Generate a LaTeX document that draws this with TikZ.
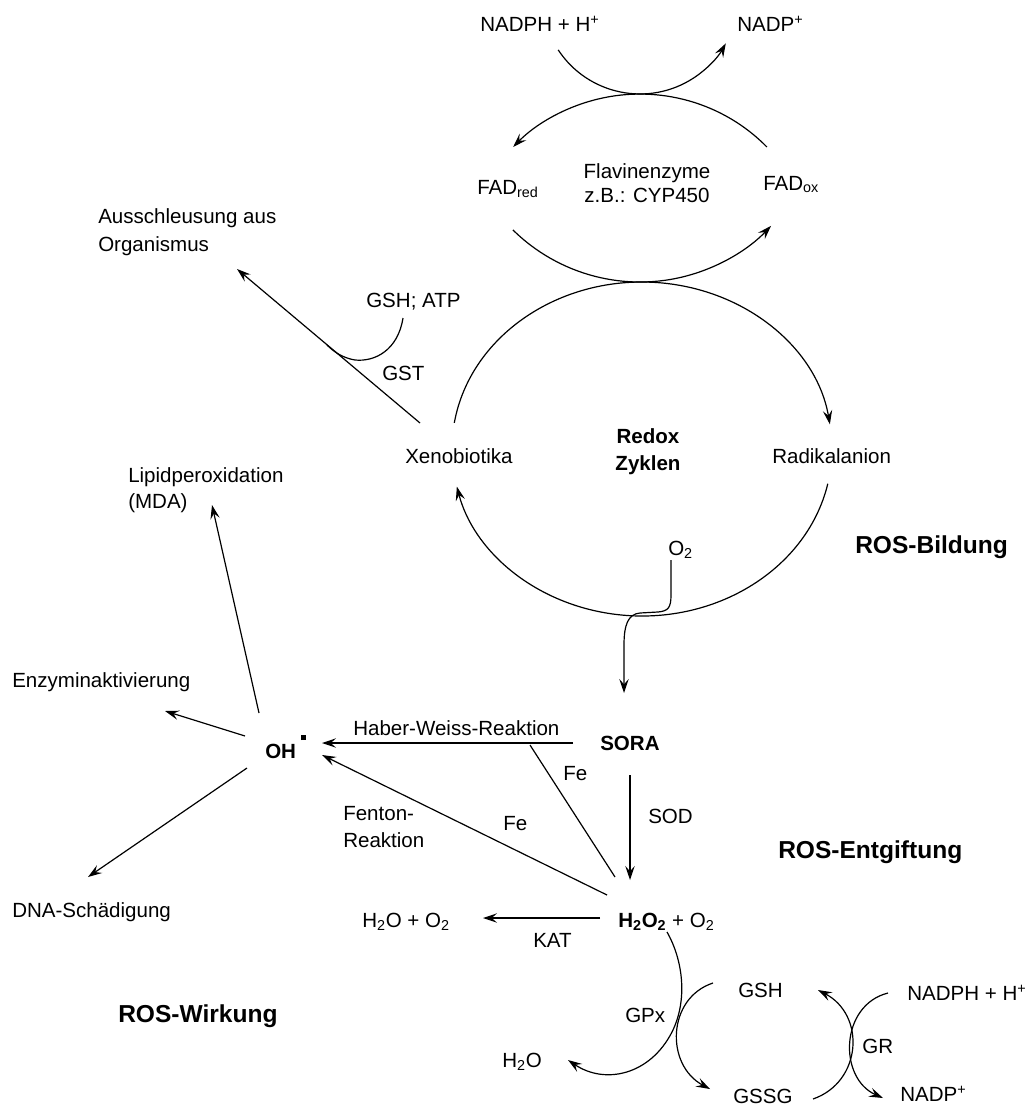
\documentclass[tikz,border=0pt]{standalone}
\usepackage{fontspec}
\setmainfont{Liberation Sans}
\usetikzlibrary{arrows.meta,calc}
\newcommand\lsub[1]{\textsubscript{#1}}
\newcommand\lsup[1]{\textsuperscript{#1}}
\tikzset{
  lbl/.style={anchor=base west, inner sep=0pt, font=\fontsize{15.4}{20}\selectfont},
  clbl/.style={anchor=base, inner sep=0pt, font=\fontsize{15.4}{20}\selectfont},
  bigl/.style={anchor=base west, inner sep=0pt, font=\fontsize{18.4}{22}\selectfont\bfseries},
  con/.style={line width=0.9pt},
  arr/.style={con, -{Stealth[length=10.5pt,width=7pt,inset=4pt]}},
}
\begin{document}
\begin{tikzpicture}[x=0.75pt,y=-0.75pt]
\useasboundingbox (0,0) rectangle (1026,1107);
\fill[white] (0,0) rectangle (1026,1107);

% ---------- texts ----------
\node[lbl] (nadphA) at (480,31) {NADPH + H\lsup{+}};
\node[lbl] (nadpA) at (737,31) {NADP\lsup{+}};
\node[lbl] (fadred) at (477,194) {FAD\lsub{red}};
\node[clbl] (flavA) at (647,178) {Flavinenzyme};
\node[clbl] (flavB) at (647,202) {z.B.: CYP450};
\node[lbl] (fadox) at (763,190) {FAD\lsub{ox}};
\node[lbl] (aus1) at (98,223) {Ausschleusung aus};
\node[lbl] (aus2) at (98,251) {Organismus};
\node[lbl] (gshatp) at (366,307) {GSH; ATP};
\node[lbl] (gst) at (382,380) {GST};
\node[lbl] (xeno) at (405,463) {Xenobiotika};
\node[lbl] (radi) at (772,463) {Radikalanion};
\node[clbl, font=\fontsize{15.4}{20}\selectfont\bfseries] (redox) at (648,443) {Redox};
\node[clbl, font=\fontsize{15.4}{20}\selectfont\bfseries] (zyklen) at (648,470) {Zyklen};
\node[lbl] (otwo) at (668,555) {O\lsub{2}};
\node[bigl] (rosb) at (855,553) {ROS-Bildung};
\node[lbl] (lipA) at (128,482) {Lipidperoxidation};
\node[lbl] (lipB) at (128,508) {(MDA)};
\node[lbl] (enz) at (12,687) {Enzyminaktivierung};
\node[lbl] (oh) at (265,758) {\textbf{OH}\hspace{4pt}\raisebox{13.5pt}{\rule{3.6pt}{3.6pt}}};
\node[lbl] (hw) at (353,735) {Haber-Weiss-Reaktion};
\node[lbl, font=\fontsize{15.4}{20}\selectfont\bfseries] (sora) at (600,750) {SORA};
\node[lbl] (fe1) at (563,780) {Fe};
\node[lbl] (sod) at (648,823) {SOD};
\node[lbl] (fenA) at (343,820) {Fenton-};
\node[lbl] (fenB) at (343,847) {Reaktion};
\node[lbl] (fe2) at (503,830) {Fe};
\node[lbl] (hoo) at (362,927) {H\lsub{2}O + O\lsub{2}};
\node[lbl] (hh) at (618,927) {\textbf{H\lsub{2}O\lsub{2}} + O\lsub{2}};
\node[lbl] (kat) at (533,947) {KAT};
\node[bigl] (rose) at (778,858) {ROS-Entgiftung};
\node[lbl] (gsh) at (738,997) {GSH};
\node[lbl] (nadphB) at (907,1000) {NADPH + H\lsup{+}};
\node[lbl] (gpx) at (625,1022) {GPx};
\node[lbl] (gr) at (862,1053) {GR};
\node[lbl] (gssg) at (733,1103) {GSSG};
\node[lbl] (nadpB) at (900,1101) {NADP\lsup{+}};
\node[lbl] (hto) at (502,1067) {H\lsub{2}O};
\node[lbl] (dna) at (12,917) {DNA-Schädigung};
\node[bigl] (rosw) at (118,1022) {ROS-Wirkung};

% ---------- connector end points ----------
\coordinate (a1) at (558.2,49.9);
\coordinate (a2) at (766.9,147);
\coordinate (a3) at (512.9,229.9);
\coordinate (c1) at (454.3,422.9);
\coordinate (c2) at (827.8,483.7);
\coordinate (gstS) at (420,423);
\coordinate (gstE) at (237,269);
\coordinate (gshS) at (403,318);
\coordinate (gshE) at (327,345);
\coordinate (oS) at (671,560);
\coordinate (oE) at (624,693);
\coordinate (ohL) at (259,713);
\coordinate (lipE) at (212,505);
\coordinate (ohE) at (245,736);
\coordinate (enzE) at (165,711);
\coordinate (ohD) at (247,768);
\coordinate (dnaE) at (88,877);
\coordinate (hwS) at (573,743);
\coordinate (hwE) at (322,743);
\coordinate (feS) at (530,745);
\coordinate (feE) at (615,877);
\coordinate (fnS) at (607,895);
\coordinate (fnE) at (322,755);
\coordinate (sodS) at (630,775);
\coordinate (sodE) at (630,880);
\coordinate (katS) at (600,918);
\coordinate (katE) at (483,918);
\coordinate (gpS) at (667,932);
\coordinate (gpE) at (568,1060);
\coordinate (gsS) at (713,983);
\coordinate (gsE) at (710,1089);
\coordinate (grS) at (813,1099);
\coordinate (grE) at (818,990);
\coordinate (npS) at (888,993);
\coordinate (npE) at (883,1098);

% ---------- connectors ----------
\draw[arr] (a1) arc[start angle=146.6,end angle=28.9,radius=98];
\draw[arr] (a2) arc[start angle=-43.8,end angle=-136.2,x radius=175.8,y radius=172];
\draw[arr] (a3) arc[start angle=134.6,end angle=43.6,radius=181];
\draw[arr] (c1) arc[start angle=-171,end angle=-8.5,x radius=190,y radius=167];
\draw[arr] (c2) arc[start angle=12,end angle=167,x radius=190,y radius=167];

\draw[arr] (gstS) -- (gstE);
\draw[con] (gshS) .. controls (398,350) and (375,362) .. (355,360) .. controls (343,358) and (334,352) .. (gshE);

\draw[arr] (oS) -- (671,595) .. controls (671,608) and (668,611) .. (658,612) -- (640,613) .. controls (628,614) and (624,625) .. (624,645) -- (oE);

\draw[arr] (ohL) -- (lipE);
\draw[arr] (ohE) -- (enzE);
\draw[arr] (ohD) -- (dnaE);

\draw[arr] (hwS) -- (hwE);
\draw[con] (feS) -- (feE);
\draw[arr] (fnS) -- (fnE);
\draw[arr] (sodS) -- (sodE);
\draw[arr] (katS) -- (katE);

\draw[arr] (gpS) .. controls (683,960) and (688,1000) .. (672,1032) .. controls (650,1075) and (605,1085) .. (gpE);
\draw[arr] (gsS) .. controls (667,998) and (665,1065) .. (gsE);
\draw[arr] (grS) .. controls (862,1082) and (866,1015) .. (grE);
\draw[arr] (npS) .. controls (840,1005) and (838,1078) .. (npE);
\end{tikzpicture}
\end{document}
